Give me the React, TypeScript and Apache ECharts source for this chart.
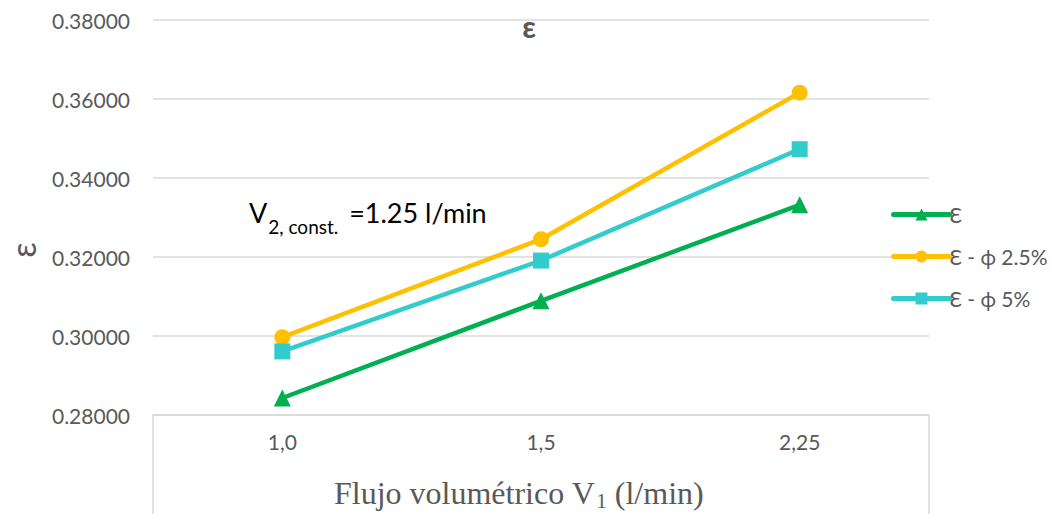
import React, { useEffect, useRef } from "react";
import * as echarts from "echarts";

const categories = ["1,0", "1,5", "2,25"];
const epsilon = [0.2843, 0.3089, 0.3332];
const epsilonPhi25 = [0.2997, 0.3245, 0.3616];
const epsilonPhi5 = [0.2961, 0.3191, 0.3473];
const seriesNames = ["Ɛ", "Ɛ - ϕ 2.5%", "Ɛ - ϕ 5%"];

const GRAY = "#595959";
const FONT = "Lato, 'Open Sans', sans-serif";
const SERIF = "'Liberation Serif', 'Times New Roman', serif";

export default function App() {
  const ref = useRef<HTMLDivElement>(null);
  useEffect(() => {
    if (!ref.current) return;
    const chart = echarts.init(ref.current, undefined, { renderer: "svg" });
    const gridLeft = 153;
    const gridWidth = 776;
    const gridTop = 20;
    const gridHeight = 395;
    const bottomY = gridTop + gridHeight;
    chart.setOption({
      animation: false,
      backgroundColor: "#ffffff",
      textStyle: { fontFamily: FONT },
      title: {
        text: "ε",
        left: 524,
        top: 6,
        textAlign: "center",
        textStyle: { fontSize: 30, fontWeight: "bold", color: GRAY, fontFamily: FONT },
      },
      grid: { left: gridLeft, width: gridWidth, top: gridTop, height: gridHeight, containLabel: false },
      legend: {
        orient: "vertical",
        left: 886,
        top: 199,
        itemWidth: 56,
        itemHeight: 15,
        itemGap: 21,
        lineStyle: { width: 5, cap: "round" },
        textStyle: { fontSize: 21, color: GRAY, fontFamily: FONT, padding: [0, 0, 0, -5] },
        data: seriesNames,
      },
      xAxis: {
        type: "category",
        data: categories,
        boundaryGap: true,
        axisLine: { show: true, lineStyle: { color: "#d9d9d9", width: 1.5 } },
        axisTick: { show: false },
        axisLabel: { fontSize: 21, color: GRAY, margin: 16, fontFamily: FONT },
      },
      yAxis: {
        type: "value",
        min: 0.28,
        max: 0.38,
        interval: 0.02,
        axisLine: { show: false },
        axisTick: { show: false },
        splitLine: { lineStyle: { color: "#d9d9d9", width: 1.5 } },
        axisLabel: {
          fontSize: 21,
          color: GRAY,
          margin: 23,
          fontFamily: FONT,
          formatter: (v: number) => v.toFixed(5),
        },
      },
      graphic: [
        {
          type: "line",
          shape: { x1: gridLeft, y1: bottomY, x2: gridLeft, y2: 530 },
          style: { stroke: "#d9d9d9", lineWidth: 1.5 },
        },
        {
          type: "line",
          shape: { x1: gridLeft + gridWidth, y1: bottomY, x2: gridLeft + gridWidth, y2: 530 },
          style: { stroke: "#d9d9d9", lineWidth: 1.5 },
        },
        {
          type: "text",
          x: 22,
          y: 250,
          rotation: Math.PI / 2,
          style: {
            text: "ε",
            fontSize: 34,
            fill: GRAY,
            fontFamily: FONT,
            align: "center",
            verticalAlign: "middle",
          },
        },
        {
          type: "text",
          x: 334,
          y: 493,
          style: {
            text: "Flujo volumétrico V{sub|1} (l/min)",
            fontSize: 32,
            fill: GRAY,
            fontFamily: SERIF,
            verticalAlign: "middle",
            rich: {
              sub: {
                fontSize: 21,
                fill: GRAY,
                fontFamily: SERIF,
                padding: [15, 0, 0, 1],
              },
            },
          },
        },
        {
          type: "text",
          x: 249,
          y: 212,
          style: {
            text: "{v|V}{s|2, const.}{e| =1.25 l/min}",
            verticalAlign: "middle",
            rich: {
              v: { fontSize: 27, fill: "#000", fontFamily: FONT },
              s: { fontSize: 19, fill: "#000", fontFamily: FONT, padding: [28, 0, 0, 1] },
              e: { fontSize: 27, fill: "#000", fontFamily: FONT, padding: [0, 0, 0, 4] },
            },
          },
        },
      ],
      series: [
        {
          name: seriesNames[0],
          type: "line",
          data: epsilon,
          symbol: "triangle",
          symbolSize: 17,
          lineStyle: { color: "#00B050", width: 4.5 },
          itemStyle: { color: "#00B050" },
        },
        {
          name: seriesNames[1],
          type: "line",
          data: epsilonPhi25,
          symbol: "circle",
          symbolSize: 16,
          lineStyle: { color: "#FFC000", width: 4.5 },
          itemStyle: { color: "#FFC000" },
        },
        {
          name: seriesNames[2],
          type: "line",
          data: epsilonPhi5,
          symbol: "rect",
          symbolSize: 16,
          lineStyle: { color: "#33CCCC", width: 4.5 },
          itemStyle: { color: "#33CCCC" },
        },
      ],
    });
    return () => chart.dispose();
  }, []);
  return <div ref={ref} style={{ width: 1053, height: 514, position: "absolute", left: 0, top: 0 }} />;
}
